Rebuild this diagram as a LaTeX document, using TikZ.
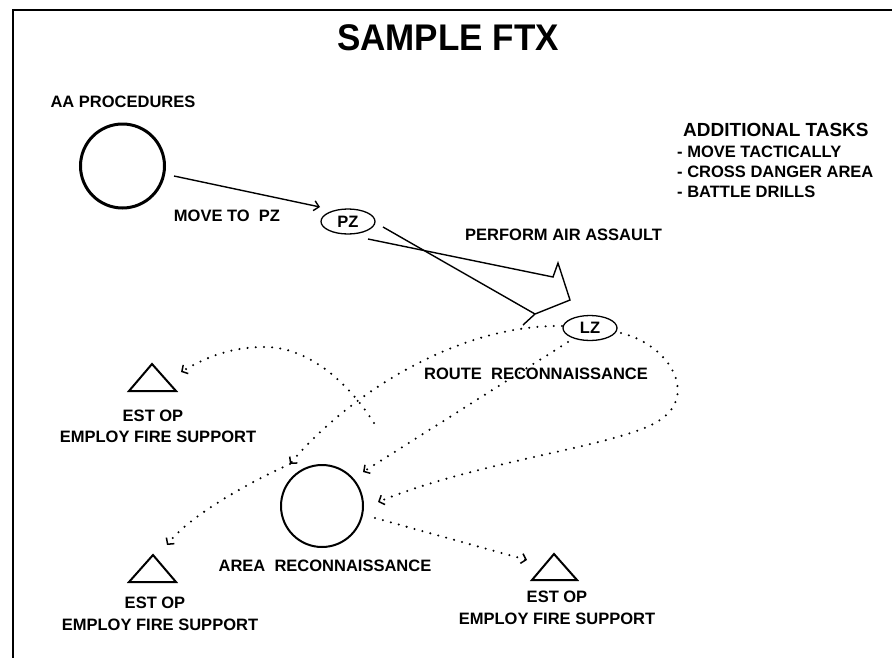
\documentclass[tikz,border=0pt]{standalone}
\usepackage{fontspec}
\setmainfont{Liberation Sans}
\usetikzlibrary{arrows.meta,shapes.geometric}
\begin{document}
\begin{tikzpicture}[x=1pt,y=-1pt,
  lbl/.style={font=\fontsize{16.5}{18}\selectfont\bfseries, inner sep=0pt},
  biglbl/.style={font=\fontsize{19}{21}\selectfont\bfseries, inner sep=0pt},
  ttl/.style={font=\fontsize{35}{40}\selectfont\bfseries, inner sep=0pt},
  frame/.style={line width=2.2pt},
  solidln/.style={line width=1.4pt, line join=miter},
  dots/.style={line width=2.3pt, dash pattern=on 0pt off 8.2pt, line cap=round},
  dtip/.style={-{Straight Barb[length=4.5pt,width=10pt,line width=1.5pt]}},
  stip/.style={-{Straight Barb[length=5pt,width=10pt,line width=1.4pt]}},
  zone/.style={ellipse, draw, line width=1.3pt, minimum width=54pt, minimum height=25pt, inner sep=0pt, font=\fontsize{16.5}{18}\selectfont\bfseries},
  tri/.style={line width=2pt, line join=miter},
]
\useasboundingbox (0,0) rectangle (892,659);
% frame
\draw[frame] (12,10) -- (892,10);
\draw[frame] (13,10) -- (13,658);

% title
\node[ttl, yscale=1.06] (title) at (448,38) {SAMPLE FTX};

% AA procedures
\node[lbl] (aalbl) at (123,102) {AA PROCEDURES};
\node[circle, draw, line width=3pt, minimum size=84pt, inner sep=0pt] (aa) at (122.5,166) {};

% PZ and LZ
\node[zone] (pz) at (348,221.5) {PZ};
\node[zone] (lz) at (590,328) {LZ};

% move to PZ
\coordinate (m1) at (174,176);
\coordinate (m2) at (320,207);
\draw[solidln, stip] (m1) -- (m2);
\node[lbl] (movelbl) at (227,216) {MOVE TO~~PZ};

% air assault block arrow
\coordinate (a0) at (383,227);
\coordinate (b0) at (368,239);
\coordinate (h1) at (553,277);
\coordinate (h2) at (558,263);
\coordinate (h3) at (570,300);
\coordinate (h4) at (535,314);
\coordinate (h5) at (523,325);
\draw[solidln] (a0) -- (h4);
\draw[solidln] (b0) -- (h1) -- (h2) -- (h3) -- (h4) -- (h5);
\node[lbl, anchor=west] (palbl) at (465,235) {PERFORM AIR ASSAULT};

% additional tasks
\node[biglbl, anchor=west] (addt) at (683,130) {ADDITIONAL TASKS};
\node[lbl, anchor=west] (t1) at (677,152) {- MOVE TACTICALLY};
\node[lbl, anchor=west] (t2) at (677,172) {- CROSS DANGER AREA};
\node[lbl, anchor=west] (t3) at (677,192) {- BATTLE DRILLS};

% route recon label
\node[lbl, anchor=west] (rrlbl) at (424,374) {ROUTE~~RECONNAISSANCE};

% area recon circle
\node[circle, draw, line width=2pt, minimum size=82pt, inner sep=0pt] (ar) at (322,506) {};
\node[lbl] (arlbl) at (325,566) {AREA~~RECONNAISSANCE};

% triangles (observation posts)
\coordinate (opA) at (152,364);
\draw[tri] (opA) -- (176,391) -- (129,391) -- cycle;
\node[lbl] (opA1) at (153,416) {EST OP};
\node[lbl] (opA2) at (158,437) {EMPLOY FIRE SUPPORT};

\coordinate (opB) at (153,555);
\draw[tri] (opB) -- (176,582) -- (129,582) -- cycle;
\node[lbl] (opB1) at (155,603) {EST OP};
\node[lbl] (opB2) at (160,625) {EMPLOY FIRE SUPPORT};

\coordinate (opC) at (554,554);
\draw[tri] (opC) -- (577,580) -- (532,580) -- cycle;
\node[lbl] (opC1) at (557,597) {EST OP};
\node[lbl] (opC2) at (557,619) {EMPLOY FIRE SUPPORT};

% dotted connectors
\coordinate (c1s) at (374,423);
\coordinate (c1p) at (265,347);
\coordinate (c1e) at (181,372);
\draw[dots, dtip] (c1s) .. controls (350,385) and (310,347) .. (c1p) .. controls (225,347) and (200,361) .. (c1e);

\coordinate (c2s) at (562,326);
\coordinate (c2e) at (290,464);
\draw[dots, dtip] (c2s) .. controls (455,324) and (345,398) .. (c2e);

\coordinate (c3e) at (167,545);
\draw[dots, dtip] (c2e) .. controls (250,482) and (190,515) .. (c3e);

\coordinate (c4s) at (568,342);
\coordinate (c4e) at (363,472);
\draw[dots, dtip] (c4s) -- (c4e);

\coordinate (c5s) at (621,333);
\coordinate (c5m) at (660,420);
\coordinate (c5e) at (378,502);
\draw[dots, dtip] (c5s) .. controls (670,345) and (698,395) .. (c5m) .. controls (622,446) and (480,460) .. (c5e);

\coordinate (c6s) at (375,518);
\coordinate (c6e) at (527,560);
\draw[dots, dtip] (c6s) -- (c6e);
\end{tikzpicture}
\end{document}
